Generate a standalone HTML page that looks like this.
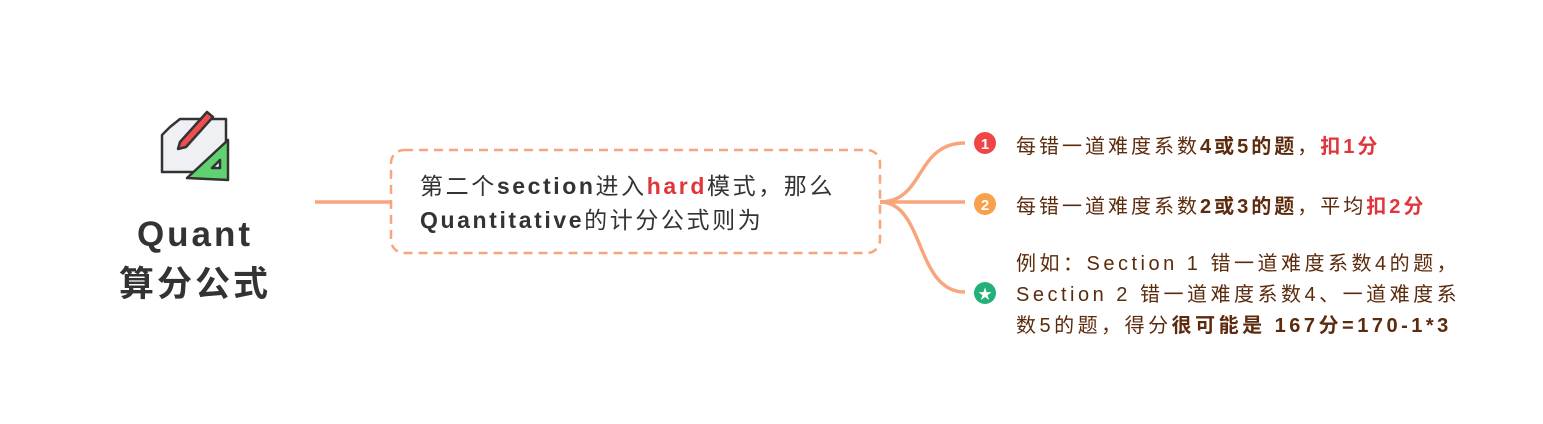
<!DOCTYPE html>
<html><head><meta charset="utf-8"><style>
body{margin:0;width:1543px;height:424px;background:#fff;position:relative;overflow:hidden;font-family:"Liberation Sans","Noto Sans CJK SC",sans-serif}
.a{position:absolute;white-space:nowrap}
.t{color:#5c2a0c;font-size:20px;letter-spacing:3px}
b.r{color:#e0353a}
</style></head><body>
<svg class="a" style="left:0;top:0" width="1543" height="424">
<path d="M315 202 H390" stroke="#f8a57d" stroke-width="3.5" fill="none"/>
<rect x="391" y="150" width="489" height="103" rx="13" fill="#fff" stroke="#f8a57d" stroke-width="2.5" stroke-dasharray="9 6"/>
<g stroke="#f8a57d" stroke-width="3.5" fill="none">
<path d="M880 202 C 925 202, 915 143, 965 143"/>
<path d="M880 202 H965"/>
<path d="M880 202 C 925 202, 915 292, 965 292"/>
</g>
<circle cx="985" cy="143" r="11" fill="#ef4545"/><text x="985" y="149" font-size="15" font-weight="bold" fill="#fff" text-anchor="middle" font-family="Liberation Sans">1</text>
<circle cx="985" cy="204" r="11" fill="#f8a04a"/><text x="985" y="210" font-size="15" font-weight="bold" fill="#fff" text-anchor="middle" font-family="Liberation Sans">2</text>
<circle cx="985" cy="293" r="11" fill="#23b07a"/><text x="985" y="299" font-size="14" fill="#fff" text-anchor="middle">★</text>
<g stroke="#333" stroke-width="2.5" stroke-linejoin="round">
<path d="M170 127 L180 119 H226 V172 H162 V135 Z" fill="#eef0f3"/>
<path d="M187 178 L228 140 V180 Z" fill="#5fd170"/>
<path d="M212 168 L220 160 V168 Z" fill="#fff"/>
<path d="M180 142 L207 112 L213 117 L186 147 L178 149 Z" fill="#ef4e4e"/>
</g>
</svg>
<div class="a" style="left:110px;top:210px;width:170px;text-align:center;font-size:35px;font-weight:bold;color:#333;line-height:50px;letter-spacing:3px">Quant<br>算分公式</div>
<div class="a" style="left:420px;top:169px;font-size:23px;color:#333;line-height:34px;letter-spacing:2.6px">第二个<b>section</b>进入<b class="r">hard</b>模式，那么<br><b>Quantitative</b>的计分公式则为</div>
<div class="a t" style="left:1016px;top:130px">每错一道难度系数<b>4或5的题</b>，<b class="r">扣1分</b></div>
<div class="a t" style="left:1016px;top:190px">每错一道难度系数<b>2或3的题</b>，平均<b class="r">扣2分</b></div>
<div class="a t" style="left:1016px;top:249px;line-height:31px;letter-spacing:3.5px">例如：Section 1 错一道难度系数4的题，<br>Section 2 错一道难度系数4、一道难度系<br>数5的题，得分<b>很可能是 167分=170-1*3</b></div>
</body></html>
